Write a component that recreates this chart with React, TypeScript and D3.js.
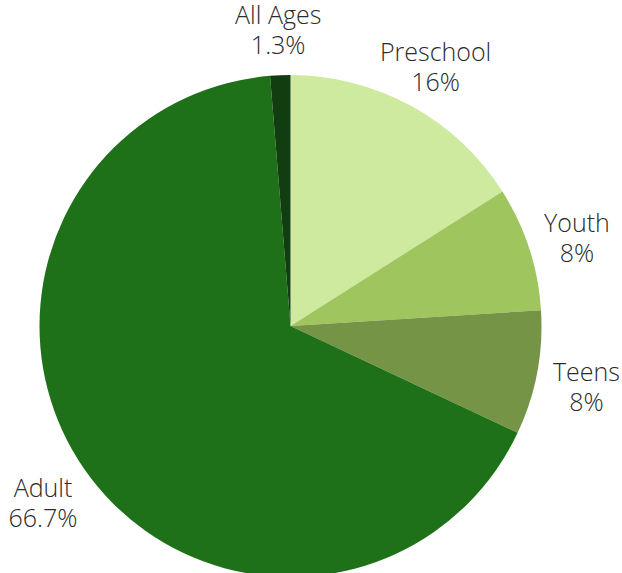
import { useEffect, useRef } from "react";
import * as d3 from "d3";

const categories = ["Preschool", "Youth", "Teens", "Adult", "All Ages"];
const values = [16, 8, 8, 66.7, 1.3];
const valueLabels = ["16%", "8%", "8%", "66.7%", "1.3%"];
const colors = ["#cdea9e", "#9fc55f", "#769446", "#1e7119", "#123d10"];

const App = () => {
  const ref = useRef<SVGSVGElement | null>(null);

  useEffect(() => {
    const width = 622;
    const height = 573;
    const cx = 290.5;
    const cy = 326;
    const radius = 251;

    const svg = d3.select(ref.current);
    svg.selectAll("*").remove();

    const data = categories.map((c, i) => ({ name: c, value: values[i], label: valueLabels[i], color: colors[i] }));

    const pie = d3
      .pie<(typeof data)[number]>()
      .sort(null)
      .value((d) => d.value);

    const arcs = pie(data);

    const arc = d3
      .arc<d3.PieArcDatum<(typeof data)[number]>>()
      .innerRadius(0)
      .outerRadius(radius);

    const labelArc = d3
      .arc<d3.PieArcDatum<(typeof data)[number]>>()
      .innerRadius(radius * 1.2)
      .outerRadius(radius * 1.2);

    const g = svg.append("g").attr("transform", `translate(${cx},${cy})`);

    g.selectAll("path")
      .data(arcs)
      .join("path")
      .attr("d", arc)
      .attr("fill", (d) => d.data.color);

    const labels = g
      .selectAll("text")
      .data(arcs)
      .join("text")
      .attr("transform", (d) => {
        const [x, y] = labelArc.centroid(d);
        return `translate(${x},${y})`;
      })
      .attr("text-anchor", "middle")
      .attr("font-family", "'Open Sans', sans-serif")
      .attr("font-weight", 300)
      .attr("font-size", 25)
      .attr("fill", "#2b2b2b");

    labels.append("tspan").attr("x", 0).attr("y", -1).text((d) => d.data.name);
    labels.append("tspan").attr("x", 0).attr("y", 29).text((d) => d.data.label);

    svg.attr("width", width).attr("height", height);
  }, []);

  return (
    <svg
      ref={ref}
      width={622}
      height={573}
      style={{ position: "absolute", left: 0, top: 0, background: "#ffffff" }}
    ></svg>
  );
};

export default App;
